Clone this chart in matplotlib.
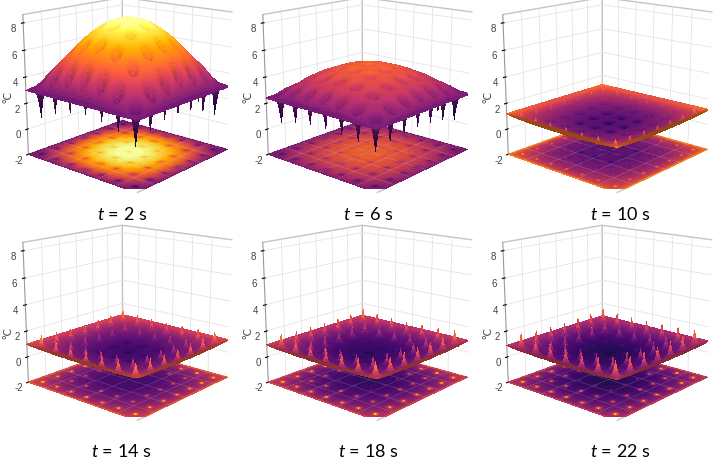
import numpy as np
import matplotlib
matplotlib.use('Agg')
from matplotlib import pyplot as plt
from matplotlib import cm
from matplotlib.colors import LightSource, Normalize

times = [2, 6, 10, 14, 18, 22]
edge_temp = [3.0, 2.4, 1.2, 1.0, 0.95, 0.9]
centre_temp = [8.3, 4.8, 0.3, 0.2, 0.15, 0.1]
dome_power = [0.7, 0.55, 0.35, 0.35, 0.35, 0.35]
# height of the narrow spike at each source, per ring (ring 0 = centre)
spike_ring0 = [0.0, 0.0, 0.1, 0.2, 0.25, 0.3]
spike_ring1 = [0.0, -0.4, 0.2, 0.4, 0.5, 0.6]
spike_ring2 = [-1.2, -1.6, 0.5, 1.0, 1.1, 1.2]
spike_ring3 = [-2.0, -1.8, 0.8, 1.2, 1.3, 1.4]
dimple_depth = [-0.8, -0.6, -0.35, -0.3, -0.25, -0.25]
# colour scale limits of each panel
colour_lo = [0.6, 0.0, -0.2, -0.2, -0.2, -0.2]
colour_hi = [8.3, 7.5, 1.8, 1.8, 1.9, 2.0]
z_ticks = [-2, 0, 2, 4, 6, 8]

plt.rcParams['font.family'] = ['Lato', 'DejaVu Sans']
plt.rcParams['mathtext.fontset'] = 'custom'
plt.rcParams['mathtext.it'] = 'Lato:italic'
plt.rcParams['mathtext.rm'] = 'Lato'
plt.rcParams['grid.color'] = '#e4e4e4'
plt.rcParams['grid.linewidth'] = 0.6

n = 141
xs = np.linspace(0, 1, n)
X, Y = np.meshgrid(xs, xs)
src = (np.arange(7) * 2 + 1) / 14
grid_pos = np.linspace(0, 1, 7)[1:-1]


def field(k):
    s = (np.sin(np.pi * X) * np.sin(np.pi * Y)).clip(0) ** dome_power[k]
    z = edge_temp[k] + (centre_temp[k] - edge_temp[k]) * s
    rings = [spike_ring0[k], spike_ring1[k], spike_ring2[k], spike_ring3[k]]
    for i in range(7):
        for j in range(7):
            d = np.hypot(X - src[i], Y - src[j])
            r = max(abs(i - 3), abs(j - 3))
            z = z + rings[r] * np.exp(-d / 0.015) + dimple_depth[k] * np.exp(-(d / 0.03) ** 2)
    return z


fig = plt.figure(figsize=(7.2, 4.64), dpi=100)
ls = LightSource(azdeg=315, altdeg=45)
col_x = [0.0083, 0.3415, 0.6748]
row_y = [0.590, 0.099]
title_x = [0.169, 0.511, 0.861]
title_y = [0.537, 0.027]

for k in range(6):
    row, col = divmod(k, 3)
    ax = fig.add_axes([col_x[col], row_y[row], 1 / 3, 0.44], projection='3d')
    ax.computed_zorder = False
    Z = field(k)
    norm = Normalize(colour_lo[k], colour_hi[k])

    levels = np.linspace(colour_lo[k], colour_hi[k], 41)
    ax.contourf(X, Y, Z, levels=levels, extend='both', zdir='z', offset=-2,
                cmap='inferno', norm=norm, zorder=1)
    for g in grid_pos:
        ax.plot([g, g], [0, 1], [-2, -2], color='white', alpha=0.15, lw=0.6, zorder=1.5)
        ax.plot([0, 1], [g, g], [-2, -2], color='white', alpha=0.15, lw=0.6, zorder=1.5)

    base = cm.inferno(norm(Z))
    light = ls.hillshade(Z, vert_exag=0.06, dx=1 / 140, dy=1 / 140)
    rgb = base.copy()
    rgb[..., :3] = np.clip(base[..., :3] * (0.6 + 0.55 * light[..., None]), 0, 1)
    ax.plot_surface(X, Y, Z, facecolors=rgb, rstride=1, cstride=1, linewidth=0,
                    antialiased=False, shade=False, zorder=2)

    ax.set_xlim(0, 1)
    ax.set_ylim(0, 1)
    ax.set_zlim(-2, 8.6)
    ax.set_xticks(grid_pos)
    ax.set_yticks(grid_pos)
    ax.set_xticklabels([])
    ax.set_yticklabels([])
    ax.set_zticks(z_ticks)
    ax.set_zticklabels([str(v) for v in z_ticks], fontsize=7, color='#444444',
                       family='Liberation Sans')
    for a in (ax.xaxis, ax.yaxis, ax.zaxis):
        a.set_pane_color((1, 1, 1, 1))
        a.pane.set_edgecolor('#c4c4c4')
    for a in (ax.xaxis, ax.yaxis):
        a._axinfo['tick']['inward_factor'] = 0
        a._axinfo['tick']['outward_factor'] = 0
        a.line.set_linewidth(0)
    ax.zaxis.line.set_color('#999999')
    ax.tick_params(axis='z', pad=-4.5)
    ax.set_proj_type('persp', focal_length=0.6555)
    ax.view_init(elev=15.49, azim=-139.03)
    ax.set_box_aspect((1, 1, 0.993), zoom=1.1888)

    fig.text(col_x[col] + 0.003, 0.79 - row * 0.507, '°C', rotation=90, ha='center',
             va='center', fontsize=8, color='#444444')
    fig.text(title_x[col], title_y[row], f'$t$ = {times[k]} s',
             ha='center', va='center', fontsize=13)

fig.savefig('out.png', dpi=100)
